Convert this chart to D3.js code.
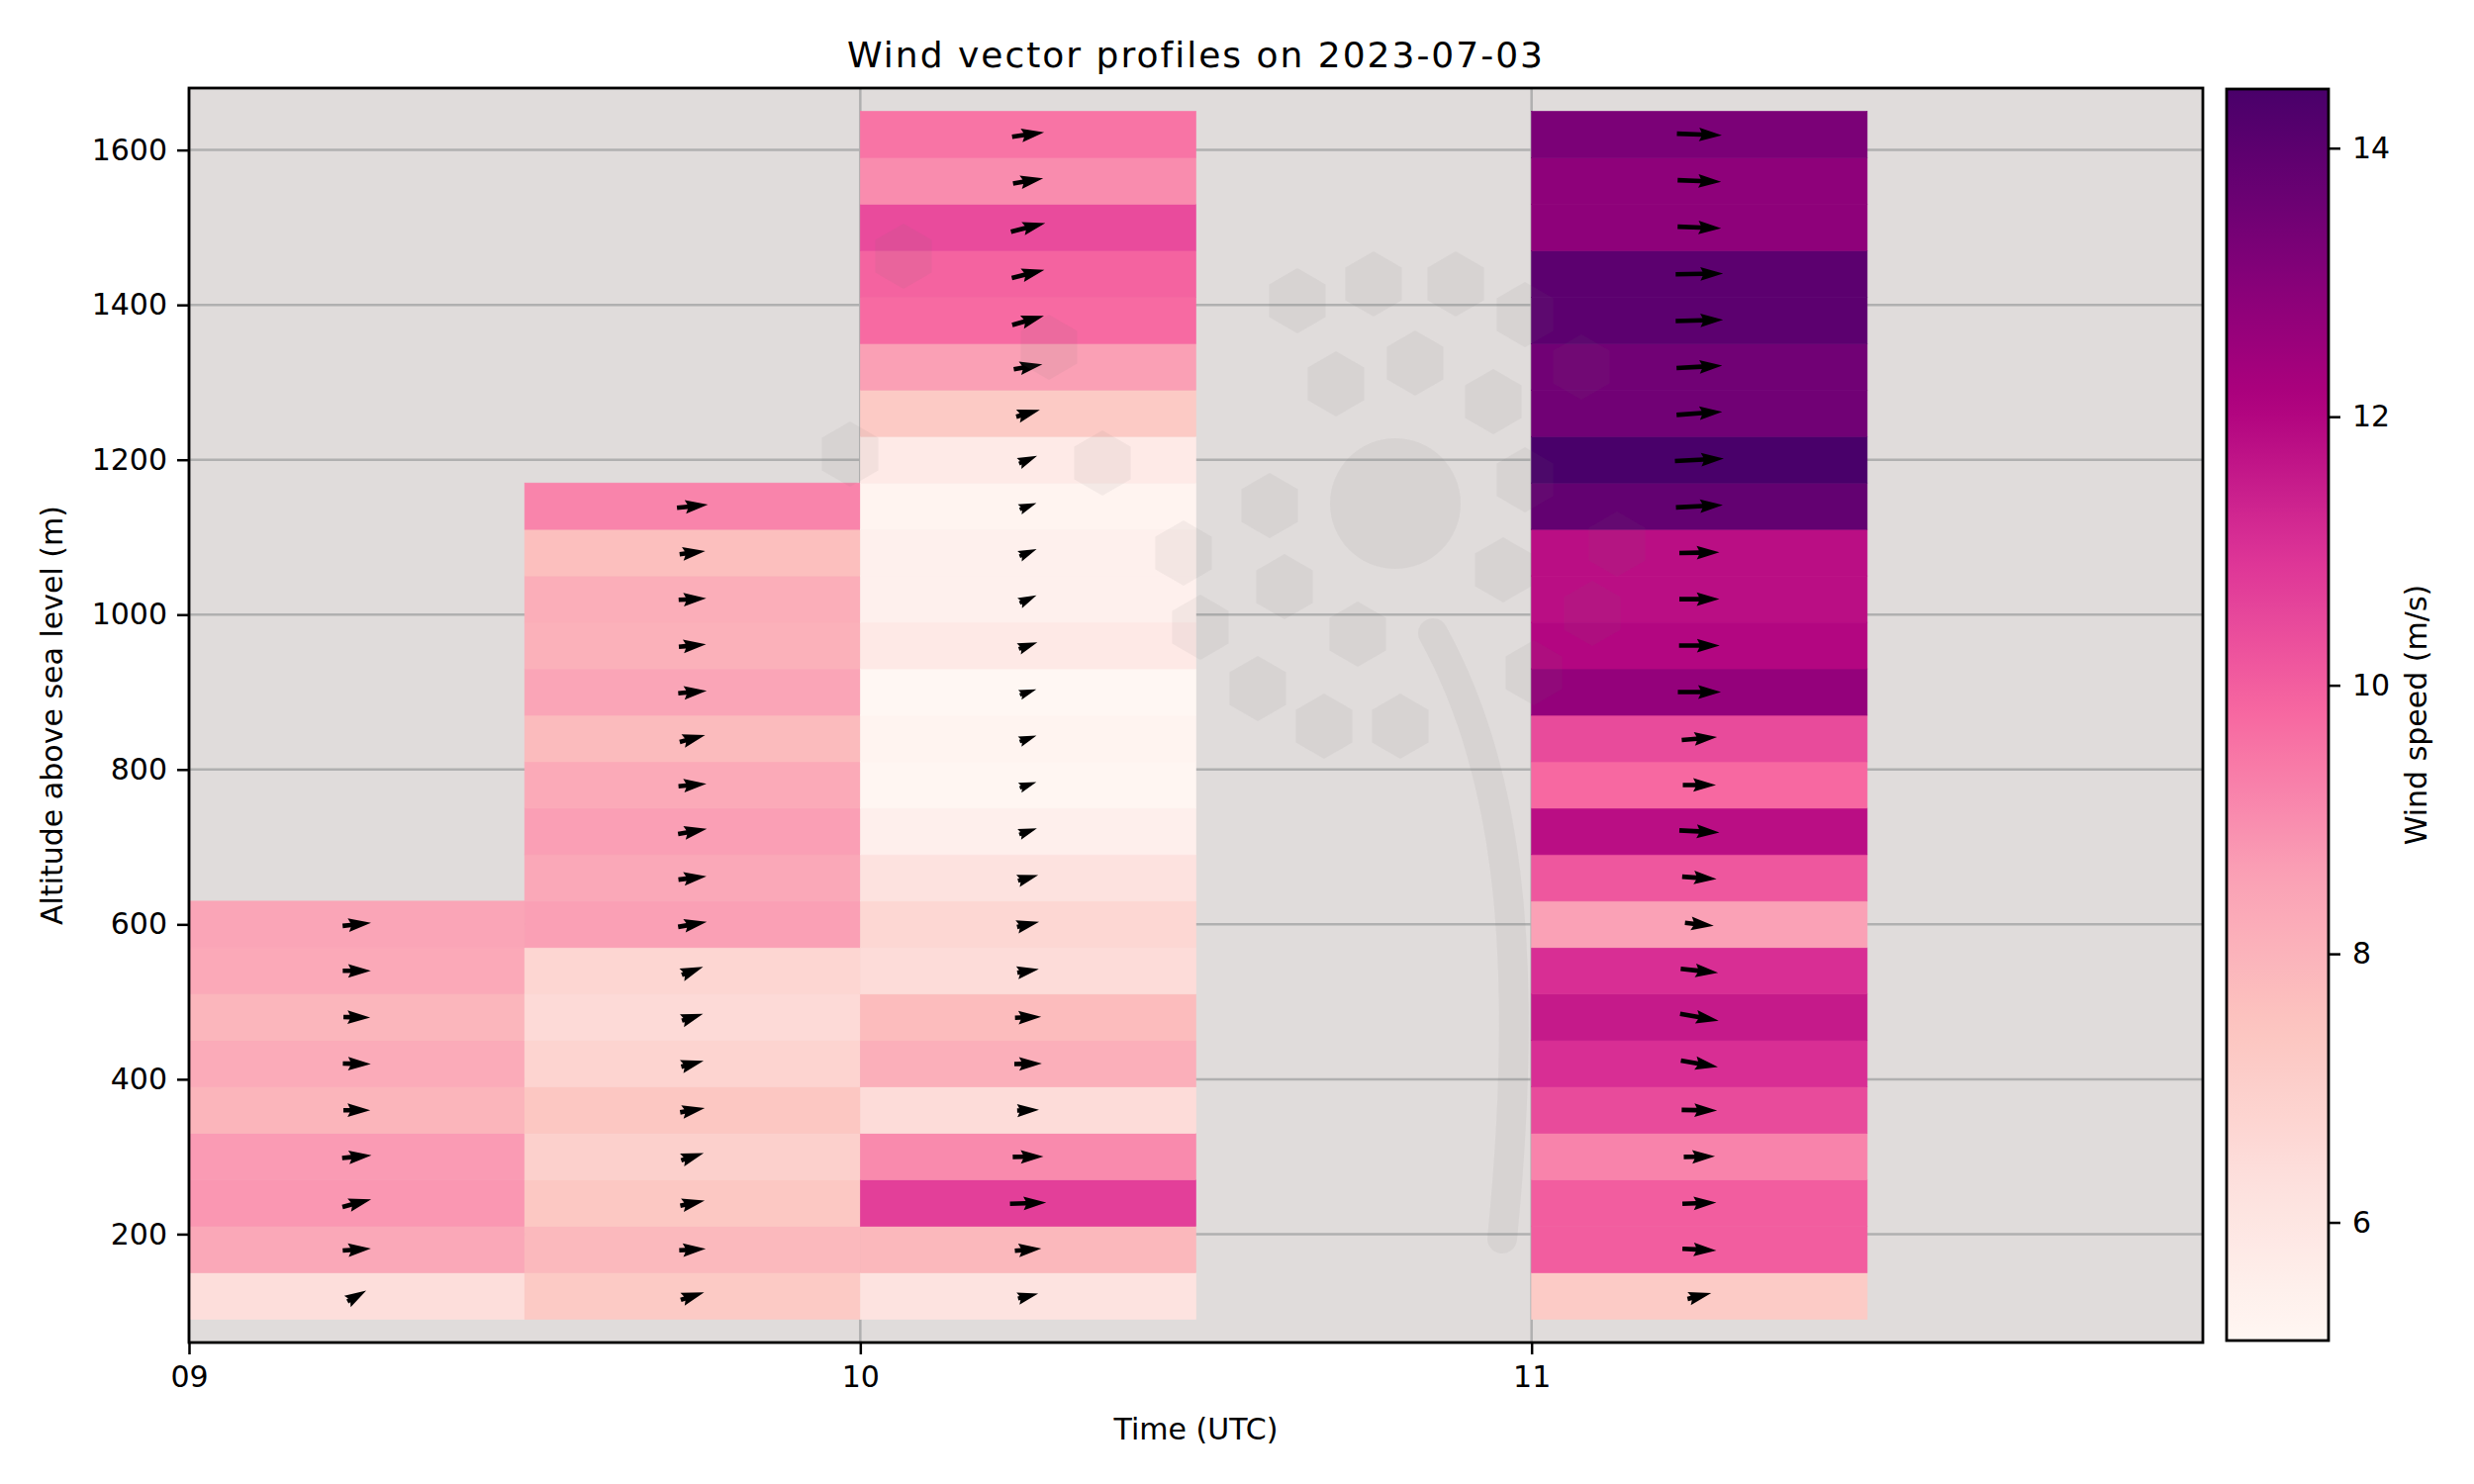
<!DOCTYPE html>
<html><head><meta charset="utf-8">
<script src="https://cdn.jsdelivr.net/npm/d3@7"></script>
<style>body{margin:0;background:#fff;} text{font-family:"DejaVu Sans",sans-serif;fill:#000;}</style>
</head><body><svg id="chart" width="2500" height="1500"></svg>
<script>
// ---- data ----
const times = ["09:00", "09:30", "10:00", "11:00"];
const altitudes = [120,180,240,300,360,420,480,540,600,660,720,780,840,900,960,1020,1080,1140,1200,1260,1320,1380,1440,1500,1560,1620];
// wind speed (m/s), bottom-up, one value per altitude level
const speed0900 = [6.37,8.33,8.78,8.69,7.93,8.24,7.90,8.30,8.42];
const speed0930 = [7.25,7.81,7.33,6.97,7.37,6.80,6.54,6.71,8.58,8.33,8.61,8.27,7.75,8.42,8.05,8.15,7.62,9.18];
const speed1000 = [6.13,7.84,10.69,9.06,6.45,8.12,7.72,6.45,6.67,6.18,5.51,5.16,5.26,5.12,5.82,5.46,5.46,5.26,5.77,7.25,8.58,9.73,9.90,10.42,9.01,9.52];
const speed1100 = [7.20,10.02,10.02,9.20,10.44,11.08,11.53,11.08,8.54,10.17,11.81,9.77,10.44,12.69,11.99,11.81,11.81,13.82,14.44,13.48,13.48,13.98,13.98,12.83,12.83,13.25];
// arrow direction (degrees counter-clockwise from east), bottom-up
const dir0900 = [30,4,15,5,0,-1,-1,0,6];
const dir0930 = [18,3,12,18,10,15,18,21,10,7,10,5,15,5,5,3,7,6];
const dir1000 = [14,5,2,1,2,1,2,10,13,16,19,19,20,19,20,25,23,21,23,16,10,16,14,14,10,8];
const dir1100 = [14,-3,2,1,-1,-10,-10,-6,-6,-4,-3,0,5,0,0,0,1,3,3,4,3,1.5,1,-2,-2,-2];
const speeds = [speed0900, speed0930, speed1000, speed1100];
const dirs = [dir0900, dir0930, dir1000, dir1100];
const yTicks = [200,400,600,800,1000,1200,1400,1600];
const xTickHours = [9,10,11];
const xTickLabels = ["09","10","11"];
const cbTicks = [6,8,10,12,14];
const rdpu = ["#fff7f3","#fde0dd","#fcc5c0","#fa9fb5","#f768a1","#dd3497","#ae017e","#7a0177","#49006a"];
const titleText = "Wind vector profiles on 2023-07-03";

// ---- layout ----
const svg = d3.select("#chart");
const L = 191, R = 2226, T = 89, B = 1357;
const hours = t => { const [h,m] = t.split(":").map(Number); return h + m/60; };
const x = d3.scaleLinear().domain([9, 12]).range([L, R]);
const y = d3.scaleLinear().domain([60, 1680]).range([B, T]);
const allSpeeds = speeds.flat();
const [vmin, vmax] = d3.extent(allSpeeds);
const color = d3.scaleLinear().domain(rdpu.map((c,i)=> vmin + i*(vmax-vmin)/8)).range(rdpu).interpolate(d3.interpolateRgb);

// axes background
svg.append("rect").attr("x", L).attr("y", T).attr("width", R-L).attr("height", B-T).attr("fill", "#e0dcdb");

// grid
const grid = svg.append("g").attr("stroke", "#b0b0b0").attr("stroke-width", 2.5);
grid.selectAll("line.h").data(yTicks).join("line").attr("x1", L).attr("x2", R).attr("y1", d=>y(d)).attr("y2", d=>y(d));
grid.selectAll("line.v").data(xTickHours).join("line").attr("y1", T).attr("y2", B).attr("x1", d=>x(d)).attr("x2", d=>x(d));

// cells
const cells = [];
times.forEach((t, ci) => speeds[ci].forEach((s, k) => cells.push({t: hours(t), alt: altitudes[k], s, dir: dirs[ci][k]})));
svg.append("g").selectAll("rect").data(cells).join("rect")
  .attr("x", d => x(d.t)).attr("width", d => x(d.t + 0.5) - x(d.t))
  .attr("y", d => y(d.alt + 30)).attr("height", d => y(d.alt - 30) - y(d.alt + 30))
  .attr("fill", d => color(d.s)).attr("stroke", d => color(d.s)).attr("stroke-width", 0.6);

// quiver arrows (matplotlib-like)
const w = 4.6, pxPerMs = 3.43;
function arrowPts(len) {
  const hl = 5*w, hal = 4.5*w, hw = 1.5*w, sw = 0.5*w;
  let pts;
  if (len >= hl) pts = [[0,-sw],[len-hal,-sw],[len-hl,-hw],[len,0],[len-hl,hw],[len-hal,sw],[0,sw]];
  else { const k = len/hl; pts = [[0,-sw],[hl-hal,-sw],[0,-hw],[hl,0],[0,hw],[hl-hal,sw],[0,sw]].map(p=>[p[0]*k,p[1]*k]); }
  return pts.map(p => [p[0] - len/2, p[1]]);
}
svg.append("g").selectAll("polygon").data(cells).join("polygon")
  .attr("points", d => arrowPts(d.s * pxPerMs).map(p => p.join(",")).join(" "))
  .attr("transform", d => `translate(${x(d.t + 0.25)},${y(d.alt)}) rotate(${-d.dir})`)
  .attr("fill", "#000");

// watermark (decorative)
const hexes = [[913,259],[1060,351],[859,459],[1114,468],[1196,559],[1213,634],[1311,304],[1388,287],[1471,287],[1541,318],[1350,388],[1430,367],[1509,406],[1598,371],[1283,511],[1541,485],[1298,593],[1519,576],[1634,550],[1372,641],[1609,620],[1271,696],[1338,734],[1415,734],[1550,680]];
const wm = svg.append("g").attr("fill", "#777").attr("fill-opacity", 0.08);
const hexPath = (cx, cy, r) => d3.range(6).map(i => { const a = Math.PI/3*i - Math.PI/2; return [cx + r*Math.cos(a), cy + r*Math.sin(a)]; });
wm.selectAll("polygon").data(hexes).join("polygon").attr("points", d => hexPath(d[0], d[1], 33).map(p=>p.join(",")).join(" "));
wm.append("circle").attr("cx", 1410).attr("cy", 509).attr("r", 66);
svg.append("path").attr("d", "M1448,640 C1520,770 1548,950 1518,1252").attr("fill", "none")
  .attr("stroke", "#777").attr("stroke-opacity", 0.08).attr("stroke-width", 30).attr("stroke-linecap", "round");

// spines
svg.append("rect").attr("x", L).attr("y", T).attr("width", R-L).attr("height", B-T).attr("fill", "none").attr("stroke", "#000").attr("stroke-width", 2.8);

// axes
const fs = 30;
const yAxis = svg.append("g").attr("transform", `translate(${L},0)`).call(d3.axisLeft(y).tickValues(yTicks).tickFormat(d3.format("d")).tickSize(12).tickPadding(10));
const xAxis = svg.append("g").attr("transform", `translate(0,${B})`).call(d3.axisBottom(x).tickValues(xTickHours).tickFormat((d,i)=>xTickLabels[i]).tickSize(12).tickPadding(12));
[yAxis, xAxis].forEach(a => {
  a.select(".domain").remove();
  a.selectAll(".tick line").attr("stroke", "#000").attr("stroke-width", 2.5);
  a.selectAll(".tick text").attr("font-size", fs).attr("font-family", "DejaVu Sans").attr("fill", "#000");
});

// labels
svg.append("text").attr("x", (L+R)/2).attr("y", 68).attr("text-anchor", "middle").attr("font-size", 36).attr("letter-spacing", 2).text(titleText);
svg.append("text").attr("x", (L+R)/2).attr("y", 1455).attr("text-anchor", "middle").attr("font-size", fs).text("Time (UTC)");
svg.append("text").attr("transform", `translate(63,${(T+B)/2}) rotate(-90)`).attr("text-anchor", "middle").attr("font-size", fs).text("Altitude above sea level (m)");

// colorbar
const cbL = 2250, cbR = 2353, cbT = 90, cbB = 1355;
const cy = d3.scaleLinear().domain([vmin, vmax]).range([cbB, cbT]);
const grad = svg.append("defs").append("linearGradient").attr("id", "cbg").attr("x1", 0).attr("y1", 1).attr("x2", 0).attr("y2", 0);
grad.selectAll("stop").data(d3.range(0, 1.0001, 0.02)).join("stop")
  .attr("offset", d => d).attr("stop-color", d => color(vmin + d*(vmax-vmin)));
svg.append("rect").attr("x", cbL).attr("y", cbT).attr("width", cbR-cbL).attr("height", cbB-cbT).attr("fill", "url(#cbg)").attr("stroke", "#000").attr("stroke-width", 2.8);
const cAxis = svg.append("g").attr("transform", `translate(${cbR},0)`).call(d3.axisRight(cy).tickValues(cbTicks).tickSize(12).tickPadding(12));
cAxis.select(".domain").remove();
cAxis.selectAll(".tick line").attr("stroke", "#000").attr("stroke-width", 2.5);
cAxis.selectAll(".tick text").attr("font-size", fs).attr("font-family", "DejaVu Sans").attr("fill", "#000");
svg.append("text").attr("transform", `translate(2452,${(cbT+cbB)/2}) rotate(-90)`).attr("text-anchor", "middle").attr("font-size", fs).text("Wind speed (m/s)");
</script></body></html>
